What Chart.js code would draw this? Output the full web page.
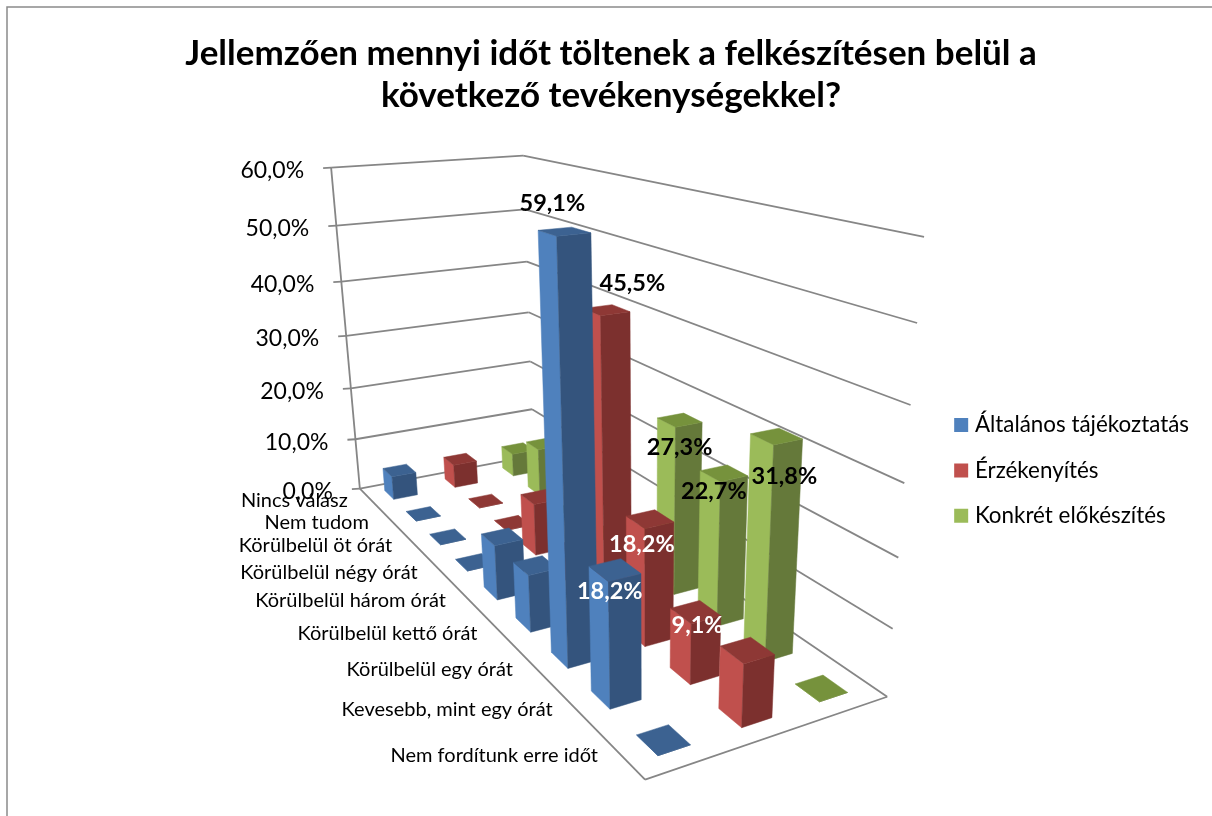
<!DOCTYPE html>
<html>
<head>
<meta charset="utf-8">
<style>
  body { margin: 0; background: #fff; }
  canvas { display: block; }
</style>
<script src="https://cdn.jsdelivr.net/npm/chart.js@4"></script>
</head>
<body>
<canvas id="chart" width="1212" height="816"></canvas>
<script>
const categories = ['Nincs válasz', 'Nem tudom', 'Körülbelül öt órát', 'Körülbelül négy órát', 'Körülbelül három órát', 'Körülbelül kettő órát', 'Körülbelül egy órát', 'Kevesebb, mint egy órát', 'Nem fordítunk erre időt'];
const seriesNames = ['Általános tájékoztatás', 'Érzékenyítés', 'Konkrét előkészítés'];
const general = [4.5, 0, 0, 0, 9.1, 9.1, 59.1, 18.2, 0];
const sensitising = [4.5, 0, 0, 9.1, 4.5, 45.5, 18.2, 9.1, 9.1];
const concrete = [4.5, 9.1, 0, 0, 4.5, 27.3, 22.7, 31.8, 0];

const FONT = 'Lato, Carlito, Calibri, sans-serif';
const GRID = '#868686';

// face colours per series: side, front, top
const faces = [
    ['#4f81bd', '#34547d', '#3c6291'],
    ['#c0504d', '#7c302e', '#8e3835'],
    ['#9bbb59', '#65793a', '#76923c']
];

// which bars carry a value label, and where it sits relative to the top of the bar
const barLabels = [
    { s: 0, c: 6, dx: -12, dy: -28, color: '#000' },
    { s: 1, c: 5, dx: 26, dy: -27, color: '#000' },
    { s: 2, c: 5, dx: 0, dy: 27, color: '#000' },
    { s: 2, c: 6, dx: -10, dy: 18, color: '#000' },
    { s: 2, c: 7, dx: 8, dy: 40, color: '#000' },
    { s: 1, c: 6, dx: -8, dy: 25, color: '#fff' },
    { s: 0, c: 7, dx: -5, dy: 21, color: '#fff' },
    { s: 1, c: 7, dx: 2, dy: 13, color: '#fff' }
];

// camera calibration: box corner (across, depth, height) -> page position
const cameraAnchors = [
    [0, 0, 0, 360, 489.3],
    [1, 0, 0, 533.5, 455],
    [1, 1, 0, 887.3, 697.3],
    [0, 1, 0, 645, 779],
    [0, 0, 1, 331, 167.3],
    [1, 0, 1, 523.3, 156],
    [1, 1, 1, 924, 236.7]
];

function solveCamera(anchors) {
    let rows = [];
    let rhs = [];
    anchors.forEach(([x, y, z, u, v]) => {
        u /= 1000;
        v /= 1000;
        rows.push([x, y, z, 1, 0, 0, 0, 0, -u * x, -u * y, -u * z]);
        rhs.push(u);
        rows.push([0, 0, 0, 0, x, y, z, 1, -v * x, -v * y, -v * z]);
        rhs.push(v);
    });
    // normal equations, then gaussian elimination
    const n = 11;
    let m = [];
    for (let i = 0; i < n; i++) {
        m[i] = [];
        for (let j = 0; j < n; j++) {
            m[i][j] = rows.reduce((t, r) => t + r[i] * r[j], 0);
        }
        m[i][n] = rows.reduce((t, r, k) => t + r[i] * rhs[k], 0);
    }
    for (let i = 0; i < n; i++) {
        let best = i;
        for (let k = i + 1; k < n; k++) {
            if (Math.abs(m[k][i]) > Math.abs(m[best][i])) best = k;
        }
        [m[i], m[best]] = [m[best], m[i]];
        for (let k = 0; k < n; k++) {
            if (k === i) continue;
            const f = m[k][i] / m[i][i];
            for (let j = i; j <= n; j++) m[k][j] -= f * m[i][j];
        }
    }
    return m.map((r, i) => r[n] / r[i]);
}

const cam = solveCamera(cameraAnchors);

function project(a, b, h) {
    const w = cam[8] * a + cam[9] * b + cam[10] * h + 1;
    return {
        x: 1000 * (cam[0] * a + cam[1] * b + cam[2] * h + cam[3]) / w,
        y: 1000 * (cam[4] * a + cam[5] * b + cam[6] * h + cam[7]) / w
    };
}

function polygon(ctx, pts, fill) {
    ctx.beginPath();
    pts.forEach((p, i) => i ? ctx.lineTo(p.x, p.y) : ctx.moveTo(p.x, p.y));
    ctx.closePath();
    ctx.fillStyle = fill;
    ctx.fill();
    ctx.strokeStyle = fill;
    ctx.lineWidth = 0.5;
    ctx.stroke();
}

function line(ctx, p, q) {
    ctx.beginPath();
    ctx.moveTo(p.x, p.y);
    ctx.lineTo(q.x, q.y);
    ctx.stroke();
}

const box3d = {
    id: 'box3d',
    beforeDraw(chart) {
        const ctx = chart.ctx;
        ctx.save();
        ctx.strokeStyle = '#8b8b8b';
        ctx.lineWidth = 1.5;
        ctx.beginPath();
        ctx.moveTo(7, 816);
        ctx.lineTo(7, 7);
        ctx.lineTo(1212, 7);
        ctx.stroke();
        ctx.restore();
    },
    beforeDatasetsDraw(chart) {
        const ctx = chart.ctx;
        const { x: catScale, y: valScale, s: serScale } = chart.scales;
        const depth = c => (catScale.getPixelForValue(c) - catScale.left) / catScale.width;
        const across = s => (serScale.getPixelForValue(s) - serScale.left) / serScale.width;
        const height = v => (valScale.bottom - valScale.getPixelForValue(v)) / valScale.height;
        const halfA = 0.19 / seriesNames.length;
        const halfB = 0.215 / categories.length;

        ctx.save();
        // walls and floor
        ctx.strokeStyle = GRID;
        ctx.lineWidth = 1.8;
        line(ctx, project(0, 0, 0), project(0, 0, 1));
        line(ctx, project(0, 0, 0), project(0, 1, 0));
        line(ctx, project(0, 1, 0), project(1, 1, 0));
        ctx.textAlign = 'right';
        ctx.textBaseline = 'middle';
        valScale.ticks.forEach(t => {
            const h = height(t.value);
            const p = project(0, 0, h);
            line(ctx, { x: p.x - 8, y: p.y + 0.5 }, p);
            line(ctx, p, project(1, 0, h));
            line(ctx, project(1, 0, h), project(1, 1, h));
        });

        // bars, back to front
        const tops = {};
        for (let c = 0; c < categories.length; c++) {
            for (let s = seriesNames.length - 1; s >= 0; s--) {
                const v = chart.data.datasets[s].data[c];
                const a0 = across(s) - halfA, a1 = across(s) + halfA;
                const b0 = depth(c) - halfB, b1 = depth(c) + halfB;
                const h = height(v);
                polygon(ctx, [project(a0, b0, 0), project(a0, b1, 0), project(a0, b1, h), project(a0, b0, h)], faces[s][0]);
                polygon(ctx, [project(a0, b1, 0), project(a1, b1, 0), project(a1, b1, h), project(a0, b1, h)], faces[s][1]);
                polygon(ctx, [project(a0, b0, h), project(a1, b0, h), project(a1, b1, h), project(a0, b1, h)], faces[s][2]);
                tops[s + '-' + c] = project(across(s), depth(c), h);
            }
        }

        // axis text
        ctx.fillStyle = '#000';
        ctx.font = '23px ' + FONT;
        valScale.ticks.forEach(t => {
            const p = project(0, 0, height(t.value));
            ctx.fillText(t.label, p.x - 27, p.y + 3);
        });
        ctx.font = '20px ' + FONT;
        categories.forEach((name, c) => {
            const p = project(0, depth(c), 0);
            ctx.fillText(catScale.getLabelForValue(c), p.x - 22, p.y + 2);
        });

        // value labels
        ctx.font = 'bold 23.5px ' + FONT;
        ctx.textAlign = 'center';
        barLabels.forEach(l => {
            const v = chart.data.datasets[l.s].data[l.c];
            const p = tops[l.s + '-' + l.c];
            ctx.fillStyle = l.color;
            ctx.fillText(v.toFixed(1).replace('.', ',') + '%', p.x + l.dx, p.y + l.dy);
        });
        ctx.restore();
        return false;
    }
};

const values = [general, sensitising, concrete];

new Chart(document.getElementById('chart'), {
    type: 'bar',
    data: {
        labels: categories,
        datasets: seriesNames.map((name, s) => ({
            label: name,
            data: values[s],
            backgroundColor: faces[s][0],
            borderWidth: 0
        }))
    },
    plugins: [box3d],
    options: {
        responsive: false,
        animation: false,
        layout: { padding: { left: 23, right: 13, top: 33, bottom: 266 } },
        scales: {
            x: { display: false },
            s: { type: 'category', axis: 'x', labels: seriesNames, offset: true, display: false },
            y: {
                display: false,
                min: 0,
                max: 60,
                ticks: { stepSize: 10, callback: v => v.toFixed(1).replace('.', ',') + '%' }
            }
        },
        plugins: {
            tooltip: { enabled: false },
            title: {
                display: true,
                text: ['Jellemzően mennyi időt töltenek a felkészítésen belül a', 'következő tevékenységekkel?'],
                color: '#000',
                font: { family: FONT, size: 35, weight: 'bold', lineHeight: 1.2 },
                padding: { top: 0, bottom: 10 }
            },
            legend: {
                position: 'right',
                align: 'end',
                labels: {
                    color: '#000',
                    font: { family: FONT, size: 22.4 },
                    usePointStyle: true,
                    pointStyle: 'rect',
                    boxWidth: 5,
                    boxHeight: 14,
                    padding: 23
                }
            }
        }
    }
});
</script>
</body>
</html>
